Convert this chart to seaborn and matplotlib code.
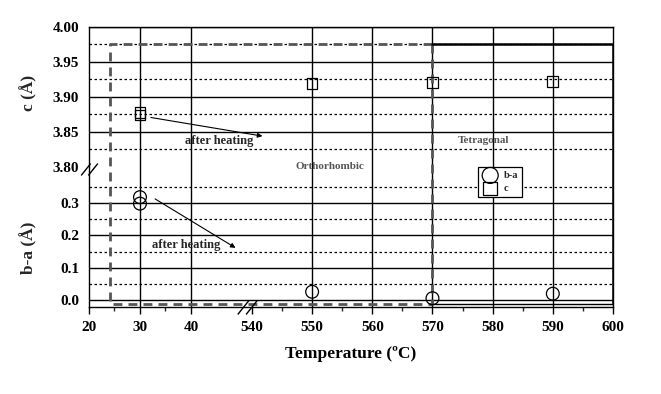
import numpy as np
import pandas as pd
import matplotlib
matplotlib.use("Agg")
import matplotlib.pyplot as plt
import seaborn as sns
from matplotlib.path import Path

# values
temps_ba = [30, 30, 550, 570, 590]
ba_vals = [0.318, 0.298, 0.026, 0.006, 0.020]
temps_c = [30, 30, 550, 570, 590]
c_vals = [3.874, 3.877, 3.919, 3.921, 3.922]

x_major = [20, 30, 40, 540, 550, 560, 570, 580, 590, 600]
x_minor = [25, 35, 545, 555, 565, 575, 585, 595]
y_major = [0.0, 0.1, 0.2, 0.3, 3.80, 3.85, 3.90, 3.95, 4.00]
y_labels = ["0.0", "0.1", "0.2", "0.3", "3.80", "3.85", "3.90", "3.95", "4.00"]
y_minor = [0.05, 0.15, 0.25, 0.35, 3.825, 3.875, 3.925, 3.975]

t_start, t_transition, t_end = 24.2, 570, 600
box_low, box_high = -0.012, 3.975


# broken axes: piecewise linear scales
def fwd_x(x):
    x = np.asarray(x, dtype=float)
    return np.where(x <= 40, (x - 20) * 5.1,
                    np.where(x >= 540, 163 + (x - 540) * 6.02, 102 + (x - 40) * 0.122))


def inv_x(u):
    u = np.asarray(u, dtype=float)
    return np.where(u <= 102, u / 5.1 + 20,
                    np.where(u >= 163, 540 + (u - 163) / 6.02, 40 + (u - 102) / 0.122))


def fwd_y(v):
    v = np.asarray(v, dtype=float)
    return np.where(v <= 0.35, v * 325,
                    np.where(v >= 3.8, 134 + (v - 3.8) * 700, 113.75 + (v - 0.35) * (20.25 / 3.45)))


def inv_y(u):
    u = np.asarray(u, dtype=float)
    return np.where(u <= 113.75, u / 325,
                    np.where(u >= 134, 3.8 + (u - 134) / 700, 0.35 + (u - 113.75) / (20.25 / 3.45)))


sns.set_theme(style="white")
plt.rcParams["font.family"] = ["Liberation Serif", "DejaVu Serif"]
plt.rcParams["font.weight"] = "bold"

fig = plt.figure(figsize=(6.61, 3.94), dpi=100)
ax = fig.add_axes([89 / 661, 1 - 307 / 394, (613 - 89) / 661, (307 - 27) / 394])
ax.set_xscale("function", functions=(fwd_x, inv_x))
ax.set_yscale("function", functions=(fwd_y, inv_y))
ax.set_xlim(20, 600)
ax.set_ylim(-0.021, 4.0)

sns.scatterplot(x=temps_ba, y=ba_vals, marker="o", s=85, facecolor="none",
                edgecolor="black", linewidth=0.9, ax=ax, label="b-a", zorder=5)
sns.scatterplot(x=temps_c, y=c_vals, marker="s", s=60, facecolor="none",
                edgecolor="black", linewidth=0.9, ax=ax, label="c", zorder=5)

ax.set_xticks(x_major)
ax.set_xticklabels([str(v) for v in x_major])
ax.set_xticks(x_minor, minor=True)
ax.set_yticks(y_major)
ax.set_yticklabels(y_labels)
ax.set_yticks(y_minor, minor=True)
ax.tick_params(axis="both", which="major", labelsize=11, colors="black")
ax.tick_params(axis="x", which="major", direction="out", length=5, width=1, pad=5, bottom=True)
ax.tick_params(axis="x", which="minor", direction="out", length=3, width=1, bottom=True)
ax.tick_params(axis="y", which="both", length=0, pad=7)
for lab in ax.get_xticklabels() + ax.get_yticklabels():
    lab.set_fontweight("bold")

ax.grid(True, which="major", color="black", linewidth=1, linestyle="-")
ax.grid(True, which="minor", axis="y", color="black", linewidth=0.9, linestyle=(0, (2, 2)))
ax.grid(False, which="minor", axis="x")
for i, v in enumerate(y_major):
    if v == 3.80:
        ax.get_ygridlines()[i].set_visible(False)
for i, v in enumerate(x_major):
    if v in (20, 540, 600):
        ax.get_xgridlines()[i].set_visible(False)
ax.set_axisbelow(True)
for s in ax.spines.values():
    s.set_color("black")
    s.set_linewidth(1)

# phase regions
ax.plot([t_transition, t_start, t_start, t_transition, t_transition],
        [box_high, box_high, box_low, box_low, box_high],
        color="#555555", lw=2, dashes=(3.2, 2.2), zorder=3)
ax.plot([t_transition, t_end, t_end], [box_high, box_high, box_low],
        color="black", lw=1.8, zorder=3)
ax.plot([t_transition, t_end], [box_low, box_low], color="black", lw=1, zorder=3)

# axis break marks
brk = Path([(-0.7, -0.5), (0.1, 0.5), (-0.1, -0.5), (0.7, 0.5)],
           [Path.MOVETO, Path.LINETO, Path.MOVETO, Path.LINETO])
ax.plot([20], [3.46], marker=brk, markersize=12, color="black", mew=1, ls="", clip_on=False, zorder=6)
ax.plot([499], [-0.021], marker=brk, markersize=14, color="black", mew=1, ls="", clip_on=False, zorder=6)

# annotations
ax.annotate("", xy=(542.2, 3.843), xytext=(31.6, 3.871),
            arrowprops=dict(arrowstyle="-|>", color="black", lw=0.8, mutation_scale=7))
ax.text(38.8, 3.837, "after heating", fontsize=9, fontweight="bold", ha="left", va="center")
ax.annotate("", xy=(425, 0.157), xytext=(32.5, 0.317),
            arrowprops=dict(arrowstyle="-|>", color="black", lw=0.8, mutation_scale=7))
ax.text(32.4, 0.169, "after heating", fontsize=9, fontweight="bold", ha="left", va="center")
ax.text(553, 3.80, "Orthorhombic", fontsize=8, fontweight="bold", color="#555555",
        ha="center", va="center")
ax.text(578.5, 3.837, "Tetragonal", fontsize=8, fontweight="bold", color="#555555",
        ha="center", va="center")

ax.set_xlabel("Temperature (ºC)", fontsize=12.5, fontweight="bold", labelpad=9, color="black")
ax.set_ylabel("")
fig.text(29 / 661, 1 - 93 / 394, "c (Å)", rotation=90, ha="center", va="center",
         fontsize=12.5, fontweight="bold")
fig.text(29 / 661, 1 - 248 / 394, "b-a (Å)", rotation=90, ha="center", va="center",
         fontsize=12.5, fontweight="bold")

leg = ax.legend(loc="upper left", bbox_to_anchor=(473 / 661, 1 - 162 / 394),
                bbox_transform=fig.transFigure, frameon=True, fancybox=False,
                edgecolor="black", framealpha=1, fontsize=7.5, borderpad=0.35,
                handletextpad=0.5, labelspacing=0.35, handlelength=1.6, markerscale=1.25)
leg.get_frame().set_linewidth(0.9)
for t in leg.get_texts():
    t.set_fontweight("bold")

fig.savefig("out.png", dpi=100)
